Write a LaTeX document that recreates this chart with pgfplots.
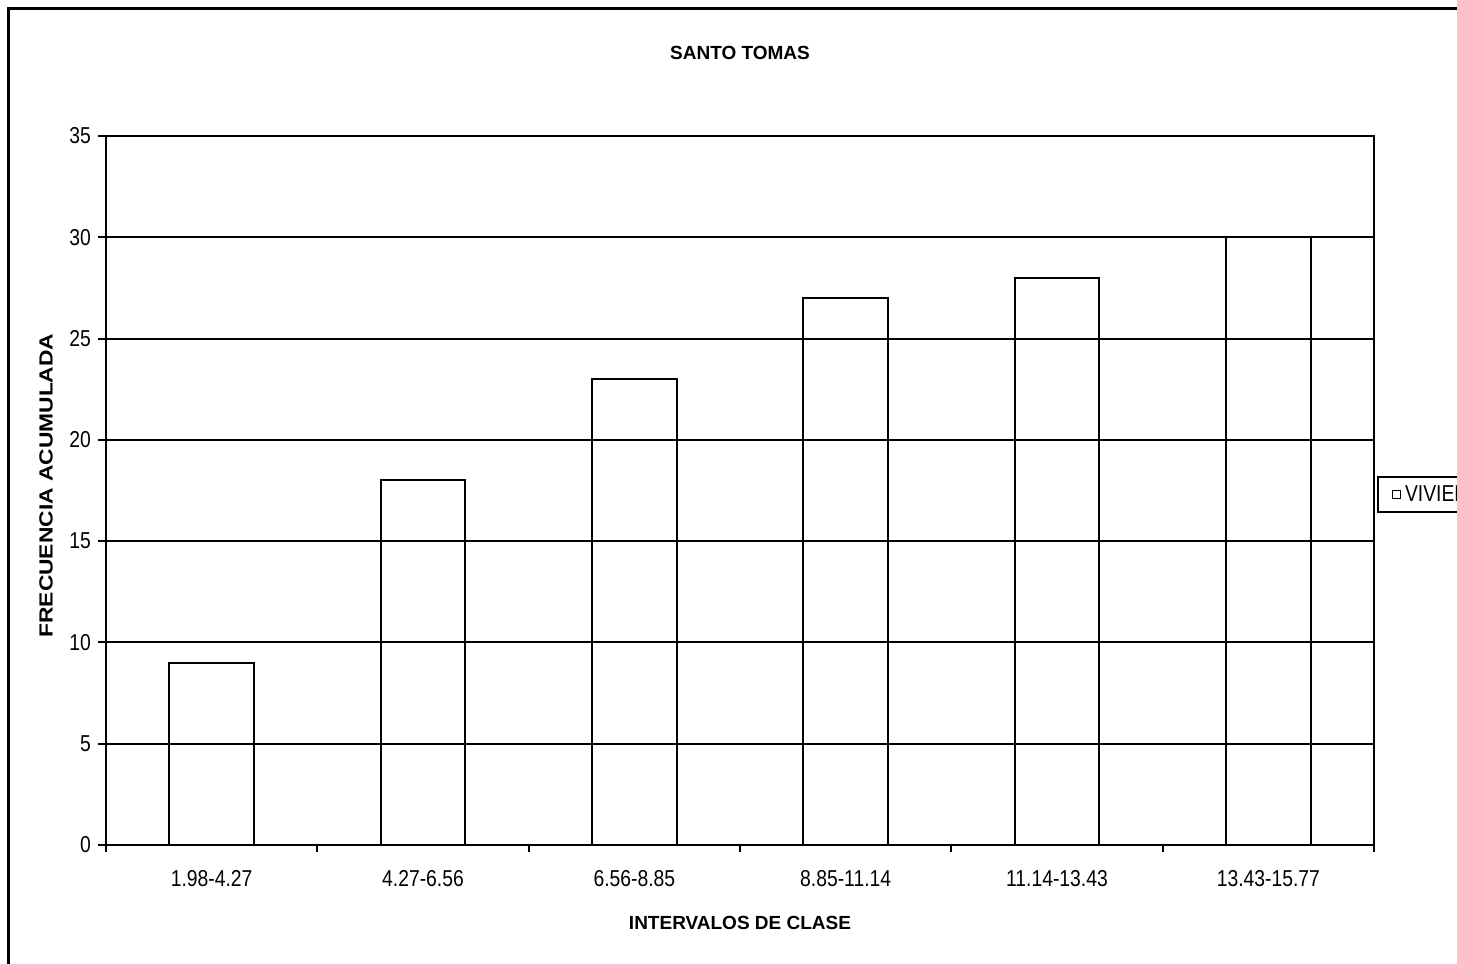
\documentclass[border=0pt]{standalone}
\usepackage{fontspec}
\setmainfont{Liberation Sans}
\newfontfamily\narrow[FakeStretch=0.84]{Liberation Sans}
\usepackage{pgfplots}
\pgfplotsset{compat=1.18}
\begin{document}
\begin{tikzpicture}[x=1pt,y=1pt]
\path[use as bounding box] (0,0) rectangle (728.5,482);
\begin{scope}
\clip (0,0) rectangle (728.5,482);
\draw[line width=1.5pt] (4,-20) -- (4,477.5) -- (760,477.5);
\begin{axis}[
  at={(53pt,59.5pt)}, anchor=south west,
  scale only axis, width=634pt, height=354.5pt,
  xmin=-0.5, xmax=5.5, ymin=0, ymax=35,
  ytick={0,5,...,35},
  ymajorgrids, grid style={black, line width=1pt},
  axis line style={line width=1pt},
  xtick={0,...,5},
  xticklabels={1.98-4.27,4.27-6.56,6.56-8.85,8.85-11.14,11.14-13.43,13.43-15.77},
  major x tick style={draw=none},
  minor xtick={-0.5,0.5,...,5.5},
  tick align=outside,
  major tick length=4pt, minor tick length=3.5pt,
  tick style={black, line width=1pt},
  xtick pos=bottom, ytick pos=left,
  ticklabel style={font=\narrow\fontsize{11.5}{13}\selectfont},
  xticklabel style={yshift=-5pt},
  /pgf/number format/assume math mode=true,
  ybar, bar width=0.4,
  legend style={at={(axis description cs:1.0024,0.494)}, anchor=west, draw=black, line width=1pt,
     font=\narrow\fontsize{11.5}{13}\selectfont, inner ysep=2pt, inner xsep=7pt},
  legend image code/.code={\draw[line width=0.5pt, fill=white] (0pt,-2pt) rectangle (4pt,2pt);},
]
\addplot[fill=none, draw=black, line width=1pt] coordinates {(0,9) (1,18) (2,23) (3,27) (4,28) (5,30)};
\addlegendentry{VIVIENDAS}
\end{axis}
\node[font=\bfseries\fontsize{9.5}{11}\selectfont] at (370,455.5) {SANTO TOMAS};
\node[font=\bfseries\fontsize{9.5}{11}\selectfont] at (370,20.5) {INTERVALOS DE CLASE};
\node[rotate=90, anchor=west, inner sep=0pt] at (23,163) {\scalebox{1.2}[1]{\bfseries\fontsize{9.5}{11}\selectfont FRECUENCIA ACUMULADA}};
\end{scope}
\end{tikzpicture}
\end{document}
